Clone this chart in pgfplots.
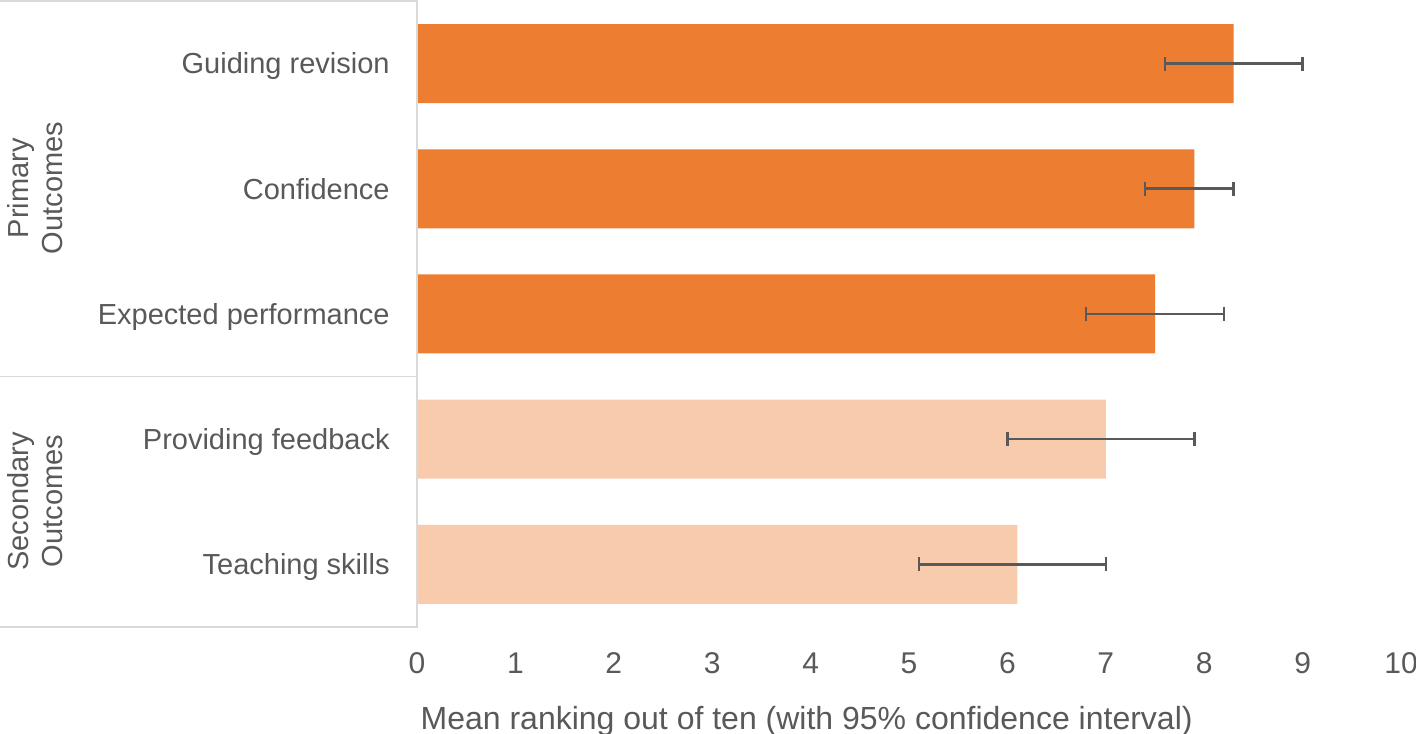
\documentclass[border=0pt]{standalone}
\usepackage{pgfplots}
\pgfplotsset{compat=1.18}
\usepackage{fontspec}
\setmainfont{Liberation Sans}
\definecolor{primc}{HTML}{ED7D31}
\definecolor{secc}{HTML}{F8CBAD}
\definecolor{txt}{HTML}{595959}
\definecolor{errc}{HTML}{595959}
\definecolor{framec}{HTML}{D9D9D9}
\begin{document}
\begin{tikzpicture}
\begin{axis}[
  scale only axis,
  width=492pt, height=313pt,
  xmin=0, xmax=10,
  ymin=-0.5, ymax=4.5,
  y dir=reverse,
  xtick={0,1,...,10},
  ytick={0,1,2,3,4},
  yticklabels={Guiding revision,Confidence,Expected performance,Providing feedback,Teaching skills},
  major tick length=0pt,
  axis line style={draw=none},
  /pgf/number format/assume math mode=true,
  xticklabel style={font=\fontsize{15}{18}\selectfont, text=txt, inner sep=0pt, anchor=north, yshift=-12.6pt},
  yticklabel style={font=\fontsize{14.5}{17}\selectfont, text=txt, inner sep=0pt, anchor=base east, xshift=-13.5pt, yshift=-5.2pt},
  xlabel={Mean ranking out of ten (with 95\% confidence interval)},
  xlabel style={font=\fontsize{16}{19}\selectfont, text=txt, inner sep=0pt, anchor=north, at={(axis description cs:0.396,0)}, yshift=-39.5pt},
  clip=false,
]
\addplot[xbar, bar shift=0pt, bar width=39.5pt, fill=primc, draw=none,
  error bars/.cd, x dir=both, x explicit,
  error bar style={line width=1.3pt, color=errc},
  error mark options={rotate=90, line width=1.3pt, color=errc, mark size=3.5pt}]
  table[x=v, y=i, x error plus=ep, x error minus=em] {
i v ep em
0 8.3 0.7 0.7
1 7.9 0.4 0.5
2 7.5 0.7 0.7
};
\addplot[xbar, bar shift=0pt, bar width=39.5pt, fill=secc, draw=none,
  error bars/.cd, x dir=both, x explicit,
  error bar style={line width=1.3pt, color=errc},
  error mark options={rotate=90, line width=1.3pt, color=errc, mark size=3.5pt}]
  table[x=v, y=i, x error plus=ep, x error minus=em] {
i v ep em
3 7.0 0.9 1.0
4 6.1 0.9 1.0
};
\draw[framec, line width=0.8pt] ([xshift=-208.5pt]rel axis cs:0,1) -- (rel axis cs:0,1) -- (rel axis cs:0,0) -- ([xshift=-208.5pt]rel axis cs:0,0);
\draw[framec, line width=0.8pt] ([xshift=-208.5pt]rel axis cs:0,0.4) -- (rel axis cs:0,0.4);
\node[rotate=90, align=center, text=txt, font=\fontsize{14.5}{17}\selectfont, inner sep=0pt] at ([xshift=-191pt]rel axis cs:0,0.701) {Primary\\Outcomes};
\node[rotate=90, align=center, text=txt, font=\fontsize{14.5}{17}\selectfont, inner sep=0pt] at ([xshift=-191pt]rel axis cs:0,0.201) {Secondary\\Outcomes};
\coordinate (BBnw) at ([xshift=-208.5pt,yshift=0.5pt]rel axis cs:0,1);
\coordinate (BBse) at ([xshift=7.5pt,yshift=-53.5pt]rel axis cs:1,0);
\end{axis}
\pgfresetboundingbox
\path[use as bounding box] (BBnw) rectangle (BBse);
\end{tikzpicture}
\end{document}
